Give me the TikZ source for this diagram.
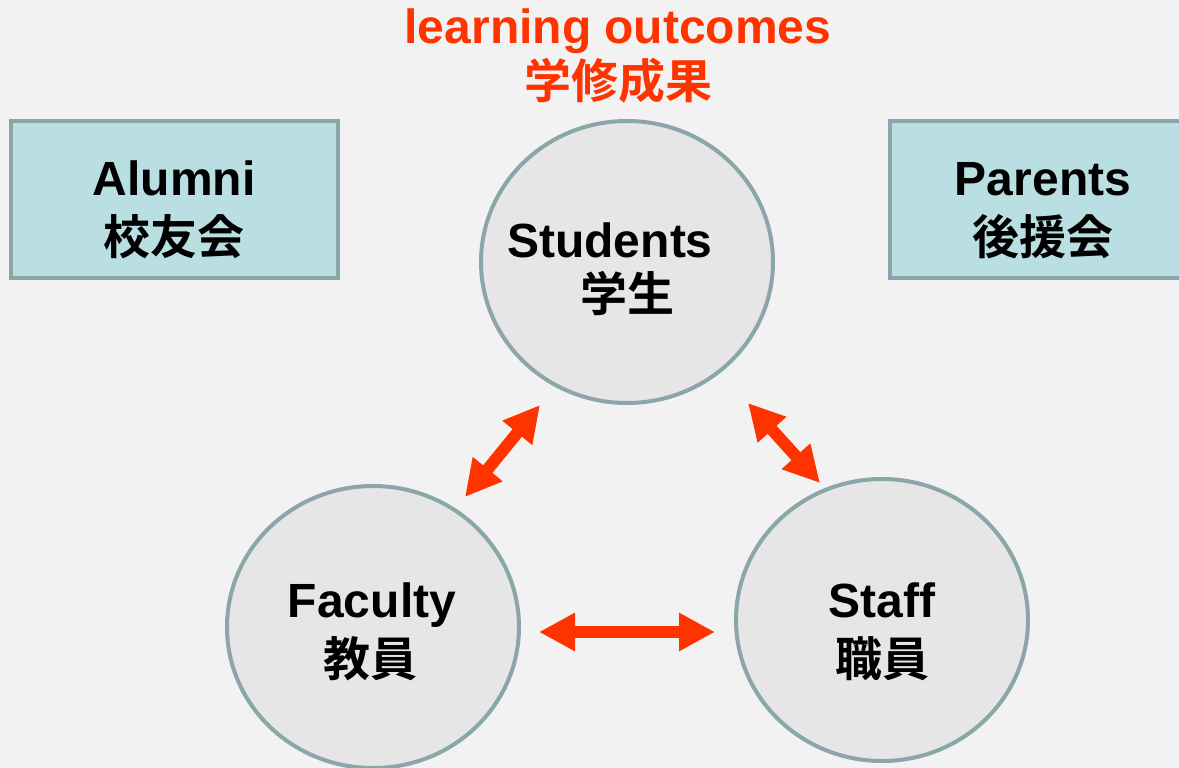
\documentclass[tikz,border=0pt]{standalone}
\usepackage{fontspec}
\setmainfont{Liberation Sans}
\newfontfamily\cjk{Noto Sans CJK JP}[BoldFont={* Bold}]
\usetikzlibrary{arrows.meta,shapes.geometric}
\definecolor{bg}{HTML}{F2F2F2}
\definecolor{rim}{HTML}{8BA6A9}
\definecolor{disc}{HTML}{E6E6E6}
\definecolor{boxfill}{HTML}{B9DFE3}
\definecolor{hot}{HTML}{FF3300}
\tikzset{
  party/.style={ellipse, draw=rim, line width=4pt, fill=disc, minimum width=292pt, minimum height=282pt, inner sep=0pt},
  group/.style={draw=rim, line width=4pt, fill=boxfill},
  lat/.style={anchor=base, inner sep=0pt, font=\fontsize{48}{58}\selectfont\bfseries},
  han/.style={anchor=base, inner sep=0pt, font=\fontsize{47}{58}\selectfont\cjk\bfseries},
  link/.style={draw=hot, line width=12pt, {Triangle[length=36pt,width=36pt]}-{Triangle[length=36pt,width=36pt]}}
}
\begin{document}
\begin{tikzpicture}[x=1pt,y=-1pt]
\useasboundingbox (0,0) rectangle (1179,768);
\clip (0,0) rectangle (1179,768);
\fill[bg] (0,0) rectangle (1179,768);
% side boxes
\draw[group] (11,121) rectangle (338,278);
\draw[group] (890,121) rectangle (1200,278);
\node[lat] (alumni) at (174,195) {Alumni};
\node[han] (alumnij) at (174,254) {校友会};
\node[lat] (parents) at (1043,195) {Parents};
\node[han] (parentsj) at (1043,254) {後援会};
% title
\node[lat, text=hot] (lo) at (618,44) {learning outcomes};
\node[han, text=hot] (loj) at (618,99) {学修成果};
% circles
\node[party] (stu) at (627,262) {};
\node[party] (fac) at (373,627) {};
\node[party] (stf) at (882,620) {};
\node[lat] (stut) at (610,257) {Students};
\node[han] (stuj) at (627,311) {学生};
\node[lat] (fact) at (372,617) {Faculty};
\node[han] (facj) at (370,676) {教員};
\node[lat] (stft) at (882,617) {Staff};
\node[han] (stfj) at (882,676) {職員};
% connector ends
\coordinate (sf1) at (540,405);
\coordinate (sf2) at (465,497);
\coordinate (ss1) at (748,403);
\coordinate (ss2) at (820,483);
\coordinate (fs1) at (539,632);
\coordinate (fs2) at (715,632);
\draw[link] (sf2) -- (sf1);
\draw[link] (ss1) -- (ss2);
\draw[link] (fs1) -- (fs2);
\end{tikzpicture}
\end{document}
